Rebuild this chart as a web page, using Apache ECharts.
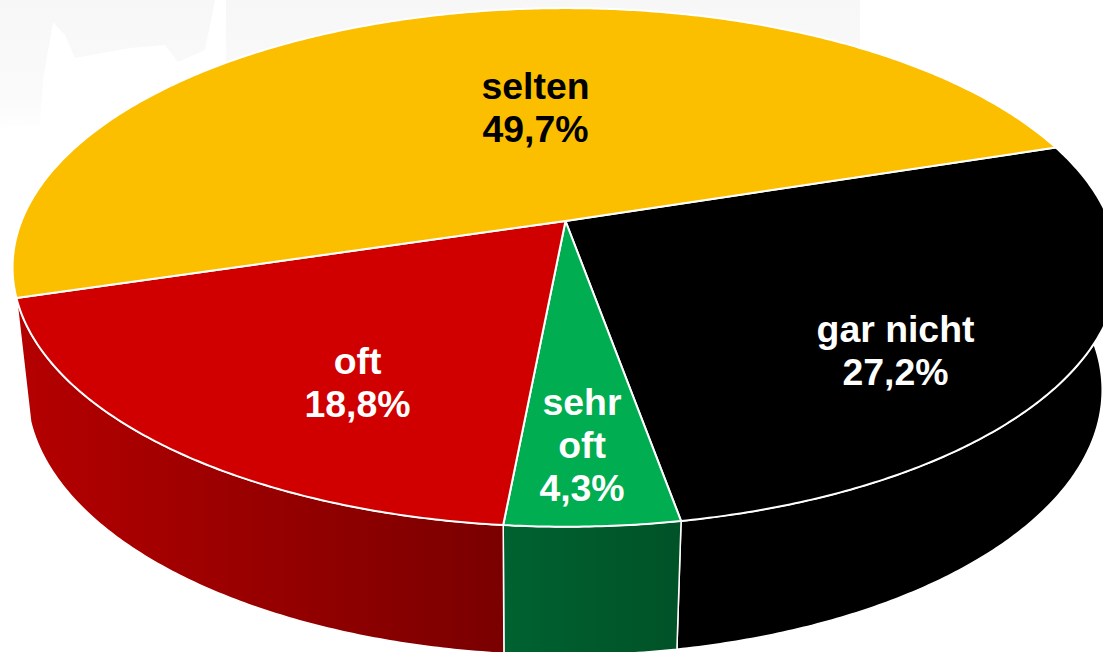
<!DOCTYPE html>
<html>
<head>
<meta charset="utf-8">
<style>html,body{margin:0;padding:0;background:#fff}#chart{width:1103px;height:652px}</style>
<script src="https://cdn.jsdelivr.net/npm/echarts@6/dist/echarts.min.js"></script>
</head>
<body>
<div id="chart"></div>
<script>
// Data, clockwise from the yellow/black boundary
var categories = ['gar nicht', 'sehr oft', 'oft', 'selten'];
var values = [27.2, 4.3, 18.8, 49.7];

// Styles
var topColors = ['#000000', '#00AD50', '#D00000', '#FBBF00'];
var textColors = ['#ffffff', '#ffffff', '#ffffff', '#000000'];
var wallColors = [['#000000', '#000000'], ['#006230', '#005227'], ['#B50000', '#7A0000'], ['#000000', '#000000']];
var labelWrap = ['gar nicht', 'sehr\noft', 'oft', 'selten'];
var labelCenters = [[895.5, 350], [582, 445], [357.5, 382], [535.5, 107]];

// Perspective layout of the disc
var startAngle = 18;
var topDisc = { cx: 565.5, cy: 221, a: 544, b: 251, k: 0.179 };
var bottomDisc = { cx: 564.5, cy: 342.6, a: 529, b: 256.5, k: 0.179 };

function project(d, deg) {
  var t = deg * Math.PI / 180, u = Math.cos(t), v = Math.sin(t), w = 1 + d.k * v;
  return [d.cx + d.a * u / w, d.cy - d.b * v / w];
}
function arc(d, from, to) {
  var pts = [], n = Math.max(2, Math.ceil(Math.abs(from - to) * 2));
  for (var i = 0; i <= n; i++) pts.push(project(d, from + (to - from) * i / n));
  return pts;
}
var total = values.reduce(function (s, x) { return s + x; }, 0);

function renderItem(params, api) {
  var i = params.dataIndex, before = 0;
  for (var j = 0; j < i; j++) before += values[j];
  var from = startAngle - before / total * 360;
  var to = from - api.value(0) / total * 360;
  var topArc = arc(topDisc, from, to);
  var face = [[topDisc.cx, topDisc.cy]].concat(topArc);
  var text = labelWrap[i] + '\n' + api.value(0).toFixed(1).replace('.', ',') + '%';
  var children = [
    {
      type: 'polygon', z2: 2, shape: { points: face },
      style: { fill: topColors[i], stroke: '#ffffff', lineWidth: 2, lineJoin: 'round' }
    },
    {
      type: 'text', z2: 3, x: labelCenters[i][0], y: labelCenters[i][1],
      style: {
        text: text, fill: textColors[i], align: 'center', verticalAlign: 'middle',
        font: 'bold 37.4px "Liberation Sans", Arial, sans-serif', lineHeight: 43
      }
    }
  ];
  // Only slices facing the viewer show a side wall
  if (Math.sin((from + to) / 2 * Math.PI / 180) < 0) {
    children.push({
      type: 'polygon', z2: 1, shape: { points: topArc.concat(arc(bottomDisc, to, from)) },
      style: {
        fill: { type: 'linear', x: 0, y: 0, x2: 1, y2: 0, colorStops: [
          { offset: 0, color: wallColors[i][0] }, { offset: 1, color: wallColors[i][1] }] },
        stroke: '#ffffff', lineWidth: 1.5, lineJoin: 'round'
      }
    });
  }
  return { type: 'group', children: children };
}

var chart = echarts.init(document.getElementById('chart'), null, { renderer: 'svg', width: 1103, height: 652 });
chart.setOption({
  animation: false,
  backgroundColor: '#ffffff',
  graphic: [
    { type: 'rect', z: -10, shape: { x: 0, y: 0, width: 860, height: 135 },
      style: { fill: { type: 'linear', x: 0, y: 0, x2: 0, y2: 1, colorStops: [
        { offset: 0, color: '#f7f7f7' }, { offset: 0.7, color: '#fafafa' }, { offset: 1, color: '#ffffff' }] } } },
    { type: 'polygon', z: -9,
      shape: { points: [[0, 135], [0, 128], [40, 125], [43, 80], [53, 22], [65, 35], [75, 58], [130, 48], [165, 45], [178, 62], [205, 50], [215, 0], [226, 0], [226, 60], [240, 100], [110, 135]] },
      style: { fill: '#ffffff' } }
  ],
  series: [{
    type: 'custom',
    coordinateSystem: 'none',
    silent: true,
    clip: false,
    data: categories.map(function (name, i) { return { name: name, value: values[i] }; }),
    renderItem: renderItem
  }]
});
</script>
</body>
</html>
